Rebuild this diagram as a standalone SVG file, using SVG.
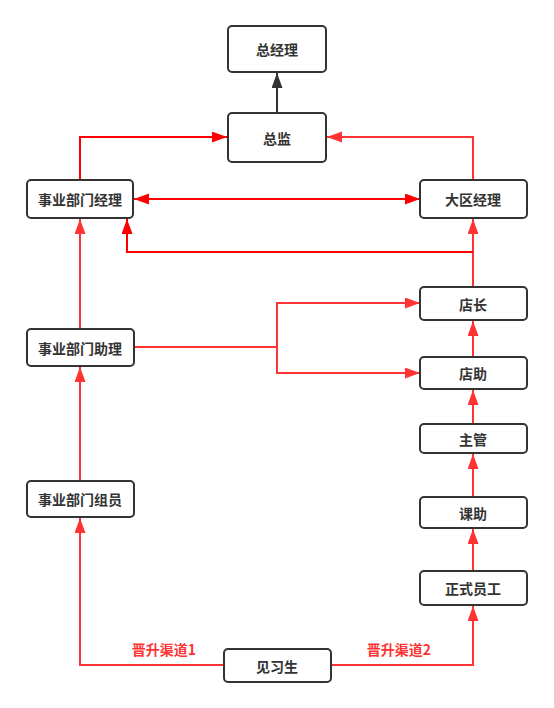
<svg xmlns="http://www.w3.org/2000/svg" width="554" height="708" viewBox="0 0 554 708">
<style>
.box{fill:#fff;stroke:#333;stroke-width:2}
.t{font-family:"Noto Sans CJK SC","Noto Sans",sans-serif;font-size:14px;font-weight:bold;fill:#333;text-anchor:middle;dominant-baseline:central}
.lbl{font-family:"Noto Sans CJK SC","Noto Sans",sans-serif;font-size:14px;font-weight:bold;fill:#FF3333;text-anchor:middle;dominant-baseline:central}
.c{fill:none;stroke-width:2}
.r{stroke:#FF0000;marker-end:url(#ar)}
.l{stroke:#FF3333;marker-end:url(#al)}
.k{stroke:#333;marker-end:url(#ak)}
</style>
<defs>
<marker id="ar" markerUnits="userSpaceOnUse" markerWidth="16" markerHeight="12" refX="15" refY="5.5" orient="auto-start-reverse"><path d="M0,0 L15,5.5 L0,11 Z" fill="#FF0000"/></marker>
<marker id="al" markerUnits="userSpaceOnUse" markerWidth="16" markerHeight="12" refX="15" refY="5.5" orient="auto"><path d="M0,0 L15,5.5 L0,11 Z" fill="#FF3333"/></marker>
<marker id="ak" markerUnits="userSpaceOnUse" markerWidth="16" markerHeight="12" refX="15" refY="5.5" orient="auto"><path d="M0,0 L15,5.5 L0,11 Z" fill="#333"/></marker>
</defs>
<rect width="554" height="708" fill="#fff"/>
<g id="connectors">
<path class="c k" d="M277,113 V73"/>
<path class="c r" d="M80,179 V137 H227"/>
<path class="c l" d="M473,180 V137 H327"/>
<path class="c r" d="M134,199 H420" marker-start="url(#ar)"/>
<path class="c l" d="M473,287 V219"/>
<path class="c r" d="M473,252 H127 V219"/>
<path class="c l" d="M80,329 V219"/>
<path class="c l" d="M134,347 H277 V303 H420"/>
<path class="c l" d="M277,347 V373 H420"/>
<path class="c l" d="M473,357 V321"/>
<path class="c l" d="M473,424 V390"/>
<path class="c l" d="M473,497 V454"/>
<path class="c l" d="M473,571 V529"/>
<path class="c l" d="M80,481 V367"/>
<path class="c l" d="M224,665 H80 V518"/>
<path class="c l" d="M331,665 H473 V606"/>
<text class="lbl" x="164" y="649">晋升渠道1</text>
<text class="lbl" x="399" y="649">晋升渠道2</text>
</g>
<g id="n-zongjingli"><rect class="box" x="228" y="26" width="98" height="46" rx="4"/><text class="t" x="277" y="49">总经理</text></g>
<g id="n-zongjian"><rect class="box" x="228" y="113" width="98" height="49" rx="4"/><text class="t" x="277" y="137.5">总监</text></g>
<g id="n-sybmjl"><rect class="box" x="27" y="180" width="106" height="38" rx="4"/><text class="t" x="80" y="199">事业部门经理</text></g>
<g id="n-dqjl"><rect class="box" x="420" y="180" width="107" height="38" rx="4"/><text class="t" x="473" y="199">大区经理</text></g>
<g id="n-dianzhang"><rect class="box" x="420" y="287" width="107" height="33" rx="4"/><text class="t" x="473" y="303.5">店长</text></g>
<g id="n-sybmzl"><rect class="box" x="27" y="329" width="107" height="37" rx="4"/><text class="t" x="80" y="347.5">事业部门助理</text></g>
<g id="n-dianzhu"><rect class="box" x="420" y="357" width="107" height="32" rx="4"/><text class="t" x="473" y="373">店助</text></g>
<g id="n-zhuguan"><rect class="box" x="420" y="424" width="107" height="29" rx="4"/><text class="t" x="473" y="438.5">主管</text></g>
<g id="n-sybmzy"><rect class="box" x="27" y="481" width="107" height="36" rx="4"/><text class="t" x="80" y="499">事业部门组员</text></g>
<g id="n-kezhu"><rect class="box" x="420" y="497" width="107" height="31" rx="4"/><text class="t" x="473" y="512.5">课助</text></g>
<g id="n-zsyg"><rect class="box" x="420" y="571" width="107" height="34" rx="4"/><text class="t" x="473" y="588">正式员工</text></g>
<g id="n-jxs"><rect class="box" x="224" y="649" width="107" height="33" rx="4"/><text class="t" x="277" y="665.5">见习生</text></g>
</svg>
